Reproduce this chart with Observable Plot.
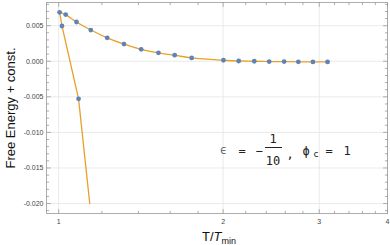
<!DOCTYPE html>
<html><head><meta charset="utf-8">
<script src="https://cdn.jsdelivr.net/npm/d3@7"></script>
<script src="https://cdn.jsdelivr.net/npm/@observablehq/plot@0.6"></script>
<style>
body{margin:0;background:#fff;}
#wrap{position:relative;width:390px;height:245px;font-family:"Liberation Sans",Arial,sans-serif;}
#wrap svg{position:absolute;left:0;top:0;}
.lab{position:absolute;color:#111;white-space:nowrap;line-height:1;}
#ylab{left:10px;top:108px;font-size:13px;transform:translate(-50%,-50%) rotate(-90deg);}
#xlab{left:219px;top:230px;font-size:13px;transform:translateX(-50%);}
#xlab sub{font-size:9px;vertical-align:-3px;}
.ann{position:absolute;font-family:"DejaVu Sans Mono","Liberation Mono",monospace;font-size:12px;color:#222;line-height:1;white-space:nowrap;transform:translate(-50%,-50%);}
#bar{position:absolute;left:265px;top:147px;width:17px;height:0;border-top:1px solid #222;}
</style></head><body><div id="wrap"></div>
<script>
// upper branch (points + line)
const upperT = [1.004, 1.030, 1.078, 1.145, 1.227, 1.317, 1.416, 1.523, 1.631, 1.752, 2.003, 2.136, 2.281, 2.429, 2.587, 2.747, 2.921, 3.107];
const upperF = [0.00688, 0.00656, 0.00552, 0.00439, 0.00330, 0.00241, 0.00168, 0.00118, 0.00085, 0.00047, 0.00014, 0.00004, 0.00000, -0.00004, -0.00004, -0.00008, -0.00009, -0.00009];
// lower branch (line)
const lowerT = [1.004, 1.014, 1.0875, 1.140];
const lowerF = [0.00688, 0.00496, -0.00528, -0.02000];
// lower-branch sample points (dots)
const lowerDotT = [1.014, 1.0875];
const lowerDotF = [0.00496, -0.00528];

const xMajor = [1, 2, 3, 4];
const xMinor = [1.2, 1.4, 1.6, 1.8, 2.2, 2.4, 2.6, 2.8, 3.2, 3.4, 3.6, 3.8];
const yMajor = [0.005, 0, -0.005, -0.010, -0.015, -0.020];
const yMinor = [0.008, 0.007, 0.006, 0.004, 0.003, 0.002, 0.001, -0.001, -0.002, -0.003, -0.004, -0.006, -0.007, -0.008, -0.009, -0.011, -0.012, -0.013, -0.014, -0.016, -0.017, -0.018, -0.019, -0.021];

const upper = upperT.map((t, i) => ({t, f: upperF[i]}));
const lower = lowerT.map((t, i) => ({t, f: lowerF[i]}));
const dots = upper.concat(lowerDotT.map((t, i) => ({t, f: lowerDotF[i]})));

const tickShape = {draw(ctx, l) { ctx.moveTo(0, 0); ctx.lineTo(0, -l); }};
const frameCol = "#9a9a9a";
const tickMarks = (data, side, len, chan) => Plot.vector(data, {
  [chan]: d => d, frameAnchor: side, length: len, anchor: "start", shape: tickShape,
  rotate: {bottom: 0, top: 180, left: 90, right: 270}[side], stroke: frameCol, strokeWidth: 0.8
});

const chart = Plot.plot({
  width: 390, height: 245,
  marginLeft: 46, marginRight: 3, marginTop: 2, marginBottom: 32,
  style: {fontFamily: "'Liberation Sans', Arial, sans-serif", background: "transparent"},
  x: {type: "log", domain: [0.95, 4]},
  y: {domain: [-0.0214, 0.00826]},
  marks: [
    Plot.gridX(xMajor, {stroke: "#e4e4e4", strokeOpacity: 1, strokeWidth: 0.8}),
    Plot.gridY(yMajor, {stroke: "#e4e4e4", strokeOpacity: 1, strokeWidth: 0.8}),
    Plot.frame({stroke: frameCol, strokeWidth: 0.8}),
    tickMarks(xMajor, "bottom", 4, "x"), tickMarks(xMinor, "bottom", 2.2, "x"),
    tickMarks(xMajor, "top", 4, "x"), tickMarks(xMinor, "top", 2.2, "x"),
    tickMarks(yMajor, "left", 4, "y"), tickMarks(yMinor, "left", 2.2, "y"),
    tickMarks(yMajor, "right", 4, "y"), tickMarks(yMinor, "right", 2.2, "y"),
    Plot.axisX({ticks: xMajor, tickSize: 0, tickPadding: 6, tickFormat: d => String(d), fontSize: 7, color: "#444", label: null}),
    Plot.axisY({ticks: yMajor, tickSize: 0, tickPadding: 3, tickFormat: d => d.toFixed(3), fontSize: 7, color: "#444", label: null}),
    Plot.line(lower, {x: "t", y: "f", stroke: "#E8A02A", strokeWidth: 1.3}),
    Plot.line(upper, {x: "t", y: "f", stroke: "#E8A02A", strokeWidth: 1.3, curve: "catmull-rom"}),
    Plot.dot(dots, {x: "t", y: "f", r: 2.4, fill: "#5F82B8", stroke: "none"})
  ]
});
const wrap = document.getElementById("wrap");
wrap.appendChild(chart);
wrap.insertAdjacentHTML("beforeend", `
<div class="lab" id="ylab">Free Energy + const.</div>
<div class="lab" id="xlab">T/<i>T</i><sub>min</sub></div>
<div class="ann" style="left:223px;top:151px;color:#555;font-size:10px">&#8712;</div>
<div class="ann" style="left:242px;top:151px">=</div>
<div class="ann" style="left:259px;top:151px">&#8722;</div>
<div class="ann" style="left:273px;top:139px">1</div>
<div id="bar"></div>
<div class="ann" style="left:273px;top:161px">10</div>
<div class="ann" style="left:290px;top:154px">,</div>
<div class="ann" style="left:306px;top:151px">&#981;</div>
<div class="ann" style="left:316px;top:154px;font-size:9px">c</div>
<div class="ann" style="left:329px;top:151px">=</div>
<div class="ann" style="left:347px;top:151px">1</div>
`);
</script>
</body></html>
